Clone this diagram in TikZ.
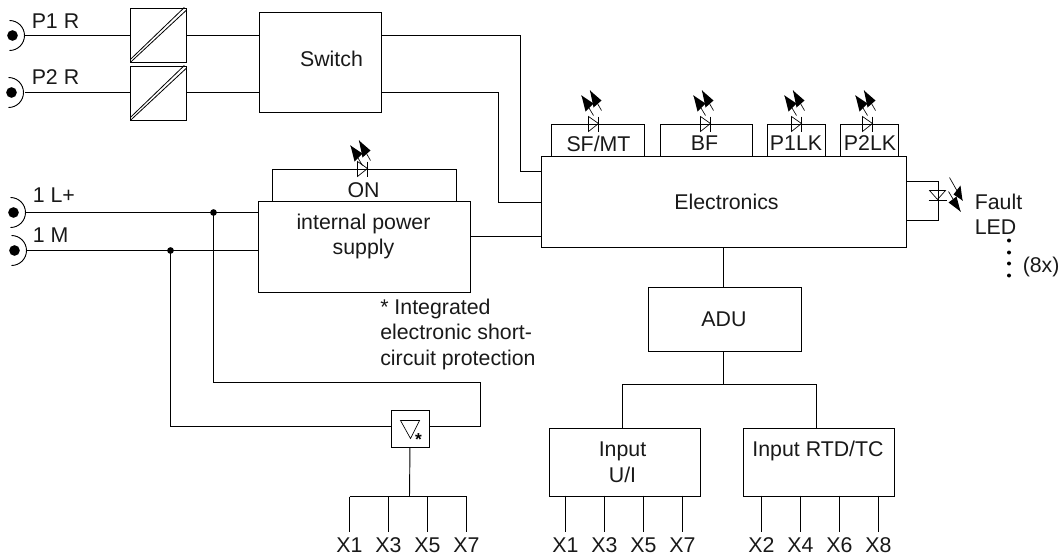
\documentclass[tikz,border=0pt]{standalone}
\usepackage{fontspec}
\setmainfont{Liberation Sans}
\tikzset{
  box/.style={draw,line width=.7pt,inner sep=0pt,rectangle},
  lbl/.style={font=\fontsize{16}{19.2}\selectfont,inner sep=0pt,align=center,text=black!90},
  wire/.style={line width=.7pt},
  joint/.style={circle,fill=black,inner sep=0pt,minimum size=5pt},
  plug/.style={circle,fill=black,inner sep=0pt,minimum size=8pt},
  pt/.style={inner sep=0pt,minimum size=0pt}
}
\newcommand{\rbox}[5]{\node[box,minimum width=#4*.75pt,minimum height=#5*.75pt,anchor=north west] (#1) at (#2,#3) {};}
\newcommand{\ledup}[3]{%
  \begin{scope}[shift={(#1,#2)}]
    \draw[line width=.5pt] (-5,-7)--(-5,8)--(5,0)--cycle;
    \draw[line width=.5pt] (5,-7)--(5,8);
    \begin{scope}[yshift=#3*.75pt]
    \fill (-12,-28)--(-8,-12)--(0,-20)--cycle;
    \fill (-3.5,-33)--(0,-16)--(8,-23)--cycle;
    \draw[line width=.5pt] (-12,-28)--(0,-8);
    \draw[line width=.5pt] (-3.5,-33)--(8,-13);
    \end{scope}
  \end{scope}}
\newcommand{\plugat}[3]{%
  \node[plug] (#1) at (#2,#3) {};
  \draw[wire] (#2-3,#3-15) arc[start angle=-90,end angle=90,radius=15];
}
\begin{document}
\begin{tikzpicture}[x=.75pt,y=-.75pt]
\useasboundingbox (0,0) rectangle (1063,557);
\begin{scope}[shift={(-.5,-.5)}]
\plugat{pa}{13}{36}
\plugat{pb}{12}{93}
\plugat{pc}{14}{213}
\plugat{pd}{15}{251}
\coordinate (pae) at (25,36);
\coordinate (pbe) at (25,93);
\coordinate (pce) at (26,213);
\coordinate (pde) at (27,251);
\coordinate (ya) at (0,172);
\coordinate (yb) at (0,203);
\coordinate (yc) at (0,237);
\coordinate (yd) at (0,427);
\coordinate (xa) at (724,0);
\node[lbl,anchor=west] (lp1) at (32,22) {P1 R};
\node[lbl,anchor=west] (lp2) at (32,78) {P2 R};
\node[lbl,anchor=west] (ll) at (33,196) {1 L+};
\node[lbl,anchor=west] (lm) at (33,236) {1 M};
\rbox{ca}{130}{8}{56}{54}
\rbox{cb}{130}{66}{56}{54}
\foreach \c in {ca,cb}{
  \draw[line width=.6pt] ([xshift=.6pt]\c.south west)--([yshift=-2pt]\c.north east);
  \draw[line width=.6pt] ([yshift=2.2pt,xshift=.6pt]\c.south west)--([xshift=-1.6pt]\c.north east);
}
\rbox{sw}{259}{12}{122}{100}
\node[lbl] (swl) at (332,59) {Switch};
\rbox{el}{541}{156}{365}{91}
\node[lbl] (ell) at (727,202) {Electronics};
\rbox{sf}{551}{124}{93}{32}
\rbox{bf}{660}{124}{92}{32}
\rbox{p1}{767}{124}{58}{32}
\rbox{p2}{840}{124}{58}{32}
\node[lbl] (sfl) at (599,144) {SF/MT};
\node[lbl] (bfl) at (705,144) {BF};
\node[lbl] (p1l) at (796.5,144) {P1LK};
\node[lbl] (p2l) at (870.5,144) {P2LK};
\ledup{594}{124}{0}
\ledup{706}{124}{0}
\ledup{797}{124}{0}
\ledup{868}{124}{0}
\rbox{on}{272}{169}{184}{32}
\rbox{ps}{258}{201}{212}{91}
\node[lbl] (onl) at (364,191) {ON};
\node[lbl] (psl) at (364,237) {internal power\\supply};
\ledup{363}{169}{-5}
\node[lbl,align=left,anchor=north west] (note) at (380.5,299) {* Integrated\\electronic short-\\circuit protection};
\rbox{fl}{906}{181}{32}{39}
\draw[line width=.5pt] (930,191)--(946,191)--(938,200)--cycle;
\draw[line width=.5pt] (929,201)--(947,201);
\fill (963,201)--(954,195)--(961,186)--cycle;
\fill (961,212)--(949,203)--(957,197)--cycle;
\draw[line width=.5pt] (950,178)--(963,201);
\draw[line width=.5pt] (949,192)--(961,212);
\node[lbl,anchor=west] (fa) at (975,202) {Fault};
\node[lbl,anchor=west] (fb) at (975,228) {LED};
\foreach \y in {241,253,264,276}{
  \fill (1009.5,\y) circle[radius=2];
}
\node[lbl,anchor=west] (x8) at (1023,267) {(8x)};
\rbox{adu}{648}{287}{153}{64}
\node[lbl] (adul) at (724.5,320) {ADU};
\rbox{iu}{549}{428}{151}{68}
\rbox{ir}{743}{428}{151}{68}
\node[lbl] (iul) at (623,463) {Input\\U/I};
\node[lbl] (irl) at (818.5,451) {Input RTD/TC};
\rbox{pr}{391}{410}{38}{37}
\draw[line width=.5pt] (401,421)--(420,421)--(411,439)--cycle;
\node[pt,font=\fontsize{13}{13}\bfseries\selectfont] (star) at (419,440) {*};
\draw[wire] (pae)--(ca.west|-pae);
\draw[wire] (pbe)--(cb.west|-pbe);
\draw[wire] (ca.east|-pae)--(sw.west|-pae);
\draw[wire] (cb.east|-pbe)--(sw.west|-pbe);
\draw[wire] (sw.east|-pae)-|(521,172)--(el.west|-ya);
\draw[wire] (sw.east|-pbe)-|(499,203)--(el.west|-yb);
\draw[wire] (ps.east|-yc)--(el.west|-yc);
\node[joint] (ja) at (214,213) {};
\node[joint] (jb) at (171,251) {};
\draw[wire] (pce)--(ps.west|-pce);
\draw[wire] (pde)--(ps.west|-pde);
\draw[wire] (ja.center)--(214,383)-|(481,427)--(pr.east|-yd);
\draw[wire] (jb.center)--(171,427)--(pr.west|-yd);
\draw[wire] (el.south-|xa)--(adu.north-|xa);
\draw[wire] (adu.south-|xa)--(724,385);
\draw[wire] (623,428)--(623,385)--(817,385)--(817,428);
\foreach \xx/\t/\n in {350/X1/a,389/X3/b,428/X5/c,467/X7/d}{
  \draw[wire] (\xx,497)--(\xx,532);
  \node[lbl] (lx\n) at (\xx,546) {\t};
}
\draw[wire] (350,497)--(467,497);
\draw[wire] (pr.south)--(410,497);
\foreach \xx/\t/\n in {566/X1/e,605/X3/f,644/X5/g,683/X7/h}{
  \draw[wire] (\xx,496)--(\xx,532);
  \node[lbl] (lx\n) at (\xx,546) {\t};
}
\foreach \xx/\t/\n in {762/X2/i,801/X4/j,840/X6/k,879/X8/l}{
  \draw[wire] (\xx,496)--(\xx,532);
  \node[lbl] (lx\n) at (\xx,546) {\t};
}
\end{scope}
\end{tikzpicture}
\end{document}
